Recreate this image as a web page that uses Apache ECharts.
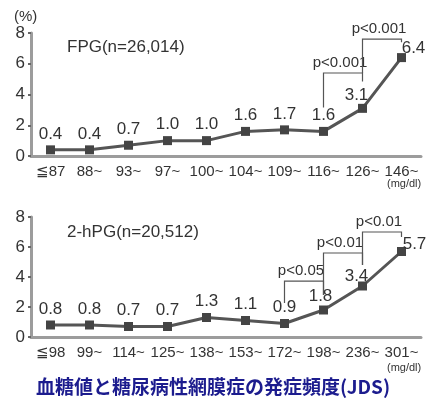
<!DOCTYPE html>
<html>
<head>
<meta charset="utf-8">
<script src="https://cdn.jsdelivr.net/npm/echarts@6/dist/echarts.min.js"></script>
<style>
  html, body { margin: 0; padding: 0; background: #fff; }
  #chart { width: 426px; height: 403px; }
</style>
</head>
<body>
<div id="chart"></div>
<script>
// Fasting plasma glucose groups (mg/dl) and retinopathy incidence (%)
const fpgCategories = ['≦87', '88~', '93~', '97~', '100~', '104~', '109~', '116~', '126~', '146~'];
const fpgValues = [0.4, 0.4, 0.7, 1.0, 1.0, 1.6, 1.7, 1.6, 3.1, 6.4];

// 2-hour plasma glucose groups (mg/dl) and retinopathy incidence (%)
const hpgCategories = ['≦98', '99~', '114~', '125~', '138~', '153~', '172~', '198~', '236~', '301~'];
const hpgValues = [0.8, 0.8, 0.7, 0.7, 1.3, 1.1, 0.9, 1.8, 3.4, 5.7];

const yTickValues = [0, 2, 4, 6, 8];

// Significance brackets: [fromIndex, toIndex, leftFoot, top, rightFoot]
const fpgBrackets = [[7, 8, 3.15, 5.4, 4.85], [8, 9, 5.4, 7.6, 7.4]];
const fpgBracketLabels = ['p<0.001', 'p<0.001'];
const hpgBrackets = [[6, 7, 2.27, 3.73, 2.8], [7, 8, 2.8, 5.6, 4.8], [8, 9, 4.8, 7.0, 6.67]];
const hpgBracketLabels = ['p<0.05', 'p<0.01', 'p<0.01'];

// Value labels nudged away from the brackets: index -> [dx, dy]
const fpgLabelShift = { 8: [-6, 3], 9: [12, 7] };
const hpgLabelShift = { 7: [-3, 2], 8: [-6, 6], 9: [13, 9] };

const FONT = '"Liberation Sans", Arial, sans-serif';
const AXIS_GRAY = '#9c9c9c';
const INK = '#333';

const chart = echarts.init(document.getElementById('chart'));

function bracketSeries(data, labels, axisIdx) {
  return {
    type: 'custom',
    xAxisIndex: axisIdx,
    yAxisIndex: axisIdx,
    clip: false,
    silent: true,
    data: data,
    encode: { x: [0, 1], y: [2, 3, 4] },
    renderItem: function (params, api) {
      const a = api.coord([api.value(0), api.value(2)]);
      const t1 = api.coord([api.value(0), api.value(3)]);
      const t2 = api.coord([api.value(1), api.value(3)]);
      const b = api.coord([api.value(1), api.value(4)]);
      return {
        type: 'group',
        children: [
          {
            type: 'polyline',
            shape: { points: [a, t1, t2, b] },
            style: { stroke: '#555', lineWidth: 1.2, fill: null }
          },
          {
            type: 'text',
            style: {
              text: labels[params.dataIndex],
              x: (t1[0] + t2[0]) / 2 - 3,
              y: t1[1] - 10,
              align: 'center',
              verticalAlign: 'middle',
              fill: INK,
              fontSize: 15,
              fontFamily: FONT
            }
          }
        ]
      };
    }
  };
}

function lineSeries(values, shifts, axisIdx) {
  return {
    type: 'line',
    xAxisIndex: axisIdx,
    yAxisIndex: axisIdx,
    data: values.map((v, i) => shifts[i]
      ? { value: v, label: { offset: shifts[i] } }
      : v),
    symbol: 'rect',
    symbolSize: 9,
    lineStyle: { color: '#555', width: 3 },
    itemStyle: { color: '#444' },
    label: {
      show: true,
      position: 'top',
      distance: 3,
      color: INK,
      fontSize: 17,
      fontFamily: FONT,
      formatter: p => Number(p.value).toFixed(1)
    },
    animation: false
  };
}

function xAxis(cats, gridIdx) {
  return {
    type: 'category',
    gridIndex: gridIdx,
    data: cats,
    boundaryGap: true,
    axisLine: { lineStyle: { color: AXIS_GRAY, width: 3 } },
    axisTick: { show: false },
    axisLabel: { color: INK, fontSize: 15, fontFamily: FONT, margin: 8, interval: 0 }
  };
}

function yAxis(gridIdx) {
  return {
    type: 'value',
    gridIndex: gridIdx,
    min: yTickValues[0],
    max: yTickValues[yTickValues.length - 1],
    interval: yTickValues[1] - yTickValues[0],
    splitLine: { show: false },
    axisLine: { show: true, lineStyle: { color: AXIS_GRAY, width: 3 } },
    axisTick: { show: true, length: 3, lineStyle: { color: '#666', width: 2 } },
    axisLabel: { color: INK, fontSize: 17, fontFamily: FONT, margin: 6 }
  };
}

chart.setOption({
  backgroundColor: '#fff',
  animation: false,
  grid: [
    { left: 31, right: 5, top: 33, height: 123 },
    { left: 31, right: 5, top: 217, height: 120 }
  ],
  xAxis: [xAxis(fpgCategories, 0), xAxis(hpgCategories, 1)],
  yAxis: [yAxis(0), yAxis(1)],
  series: [
    lineSeries(fpgValues, fpgLabelShift, 0),
    bracketSeries(fpgBrackets, fpgBracketLabels, 0),
    lineSeries(hpgValues, hpgLabelShift, 1),
    bracketSeries(hpgBrackets, hpgBracketLabels, 1)
  ],
  graphic: [
    { type: 'text', left: 14, top: 9, style: { text: '(%)', fill: INK, fontSize: 15, fontFamily: FONT } },
    { type: 'text', left: 67, top: 39, style: { text: 'FPG(n=26,014)', fill: INK, fontSize: 17, fontFamily: FONT } },
    { type: 'text', left: 387, top: 178, style: { text: '(mg/dl)', fill: INK, fontSize: 11, fontFamily: FONT } },
    { type: 'text', left: 67, top: 224, style: { text: '2-hPG(n=20,512)', fill: INK, fontSize: 17, fontFamily: FONT } },
    { type: 'text', left: 387, top: 362, style: { text: '(mg/dl)', fill: INK, fontSize: 11, fontFamily: FONT } },
    {
      type: 'text', left: 'center', top: 377,
      style: {
        text: '血糖値と糖尿病性網膜症の発症頻度(JDS)',
        fill: '#1c1c8e', fontSize: 19, fontWeight: 'bold',
        fontFamily: '"Noto Sans CJK JP", sans-serif'
      }
    }
  ]
});
</script>
</body>
</html>
